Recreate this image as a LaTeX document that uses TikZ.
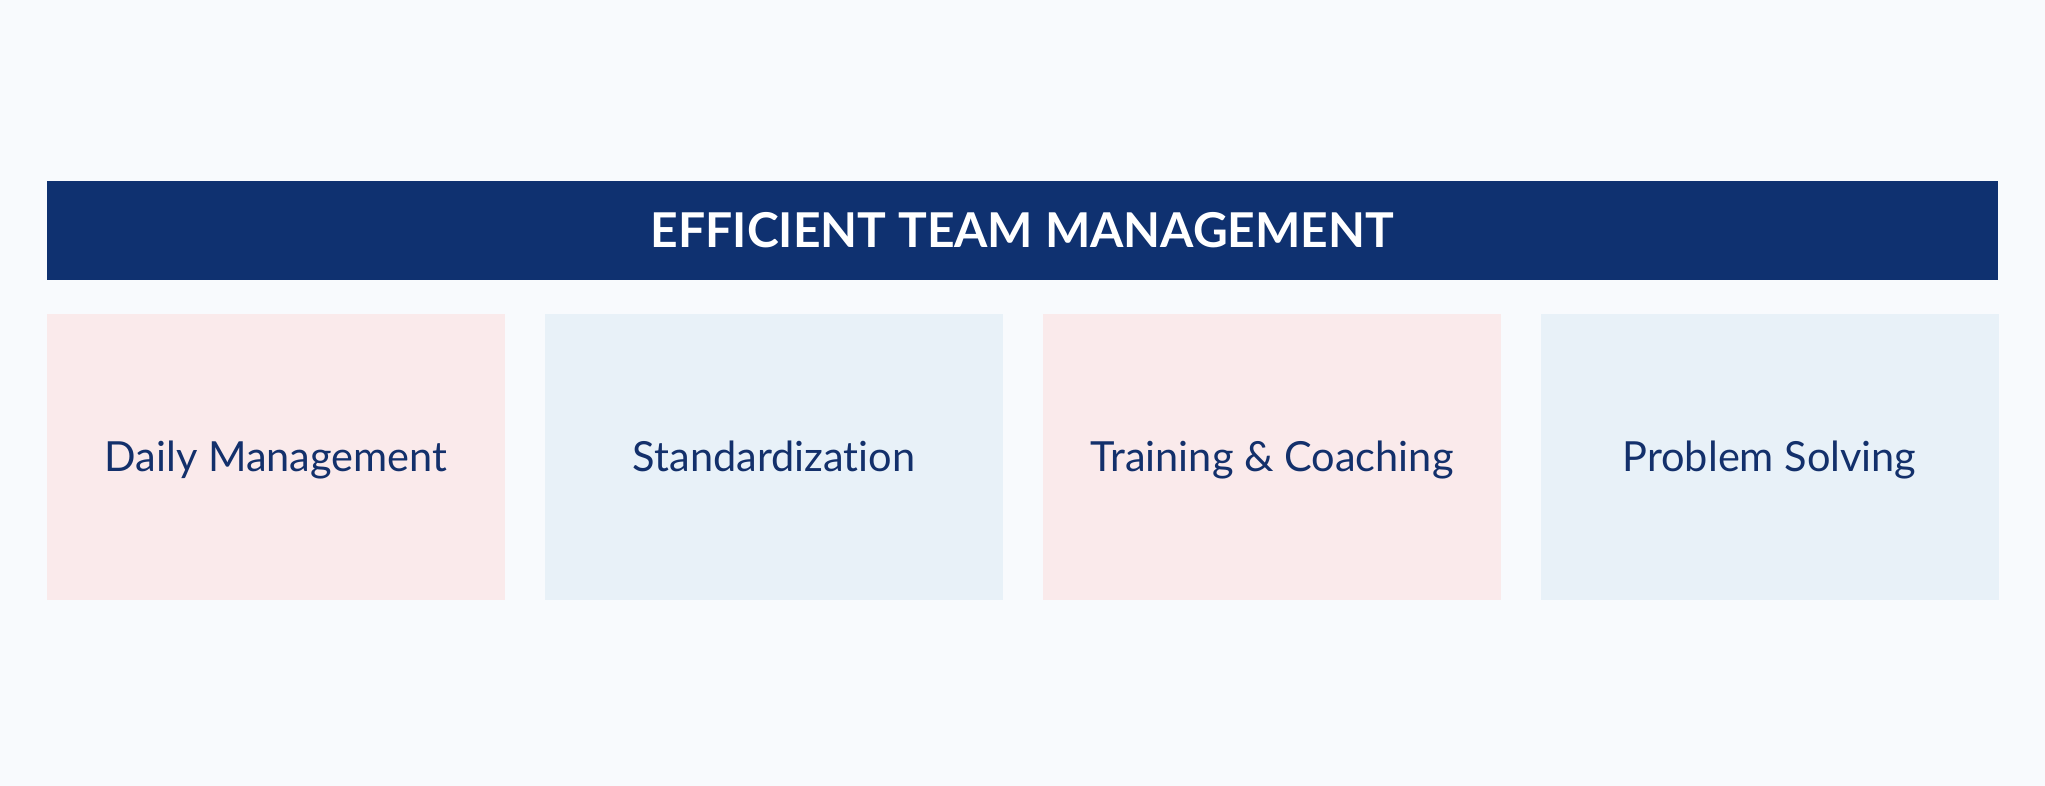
\documentclass[tikz,border=0pt]{standalone}
\usepackage{fontspec}
\setmainfont{Lato}[Ligatures=NoCommon]
\definecolor{bgc}{HTML}{F8FAFD}
\definecolor{navy}{HTML}{0F3170}
\definecolor{pinkc}{HTML}{FAEAEB}
\definecolor{bluec}{HTML}{E8F1F8}
\definecolor{txtc}{HTML}{13306B}
\begin{document}
\begin{tikzpicture}[x=1pt,y=1pt,
  banner/.style={fill=navy,draw=none,text=white,minimum width=1951pt,minimum height=99pt,inner sep=0pt,text height=34.6pt,text depth=0pt,font=\fontsize{48}{58}\selectfont\bfseries},
  card/.style={draw=none,minimum width=458pt,minimum height=286pt,inner sep=0pt,text height=29.9pt,text depth=0pt,text=txtc,font=\fontsize{41.5}{50}\selectfont},
  pinkcard/.style={card,fill=pinkc},
  bluecard/.style={card,fill=bluec}]
\fill[bgc] (0,0) rectangle (2045,786);
\useasboundingbox (0,0) rectangle (2045,786);
\node[banner] (title) at (1022.5,555.5) {EFFICIENT TEAM MANAGEMENT};
\node[pinkcard] (c1) at (276,329) {Daily Management};
\node[bluecard] (c2) at (774,329) {Standardization};
\node[pinkcard] (c3) at (1272,329) {Training \& Coaching};
\node[bluecard] (c4) at (1769.5,329) {Problem Solving};
\end{tikzpicture}
\end{document}
